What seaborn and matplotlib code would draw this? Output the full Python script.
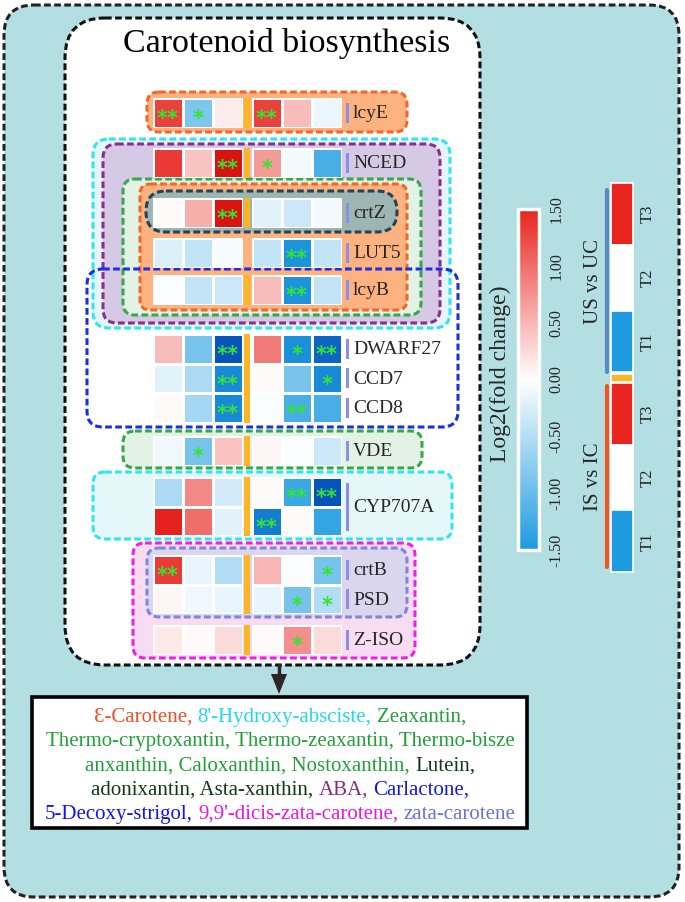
import numpy as np
import pandas as pd
import matplotlib
matplotlib.use('Agg')
import matplotlib.pyplot as plt
import seaborn as sns
from matplotlib.patches import FancyBboxPatch, Rectangle, Polygon
from matplotlib.colors import LinearSegmentedColormap, ListedColormap, Normalize
from matplotlib.cm import ScalarMappable

# -------------------------------
# data (log2 fold change)
# -------------------------------
genes = ['lcyE', 'NCED', 'crtZ', 'LUT5', 'lcyB', 'DWARF27', 'CCD7', 'CCD8',
         'VDE', 'CYP707A', 'CYP707A', 'crtB', 'PSD', 'Z-ISO']
treat = ['T1', 'T2', 'T3']

is_vs_ic = [[1.30, -0.85, 0.12], [1.35, 0.40, 2.20], [0.03, 0.55, 2.20],
            [-0.25, -0.40, -0.05], [-0.04, -0.40, -0.35], [0.45, -0.90, -2.70],
            [-0.20, -0.55, -1.80], [0.03, -0.60, -1.80], [-0.10, -0.90, 0.40],
            [-0.55, 0.80, -0.30], [1.60, 1.00, -0.20], [1.35, -0.15, -0.50],
            [0.06, -0.10, -0.15], [0.15, 0.04, 0.25]]
us_vs_uc = [[1.30, 0.45, -0.12], [0.70, -0.08, -1.20], [-0.20, -0.35, -0.08],
            [-0.40, -1.60, -0.40], [0.45, -1.60, -0.40], [0.90, -1.70, -2.40],
            [0.03, -0.90, -1.80], [-0.03, -1.20, -1.20], [0.05, -0.03, -0.35],
            [0.04, -1.30, -2.70], [-2.00, 0.03, -1.35], [0.50, -0.03, -0.90],
            [-0.15, -0.90, -0.50], [0.03, 0.75, 0.25]]
sig_is = [['**', '*', ''], ['', '', '**'], ['', '', '**'], ['', '', ''],
          ['', '', ''], ['', '', '**'], ['', '', '**'], ['', '', '**'],
          ['', '*', ''], ['', '', ''], ['', '', ''], ['**', '', ''],
          ['', '', ''], ['', '', '']]
sig_us = [['**', '', ''], ['*', '', ''], ['', '', ''], ['', '**', ''],
          ['', '**', ''], ['', '*', '**'], ['', '', '*'], ['', '**', ''],
          ['', '', ''], ['', '**', '**'], ['**', '', ''], ['', '', '*'],
          ['', '*', '*'], ['', '*', '']]

cbar_ticks = [-1.5, -1.0, -0.5, 0.0, 0.5, 1.0, 1.5]

products = [
    [("Ɛ-Carotene,", '#F04E24'), ("8'-Hydroxy-absciste,", '#22D8EE'), ("Zeaxantin,", '#22A03A')],
    [("Thermo-cryptoxantin, Thermo-zeaxantin, Thermo-bisze", '#22A03A')],
    [("anxanthin, Caloxanthin, Nostoxanthin,", '#22A03A'), ("Lutein,", '#123A12')],
    [("adonixantin, Asta-xanthin,", '#123A12'), ("ABA,", '#8A2A86'), ("Carlactone,", '#1414F0')],
    [("5-Decoxy-strigol,", '#1414F0'), ("9,9'-dicis-zata-carotene,", '#F014E6'), ("zata-carotene", '#6A72DC')],
]

# -------------------------------
# layout (pixels)
# -------------------------------
W, H = 685, 902
ROW_H = 29.5
# (first row, last row + 1, top pixel)
groups = [(0, 1, 98), (1, 2, 148), (2, 3, 198), (3, 4, 238), (4, 5, 275),
          (5, 8, 334), (8, 9, 436), (9, 11, 477), (11, 13, 555), (13, 14, 625)]
X_LEFT, X_RIGHT, CELL_W = 153, 252, 30

cmap = LinearSegmentedColormap.from_list(
    'lfc', [(0, '#0042B2'), (0.25, '#1E9BE0'), (0.5, '#FFFFFF'),
            (0.75, '#E8251F'), (1.0, '#C40000')])
cmap_mid = ListedColormap(cmap(np.linspace(0.25, 0.75, 256)))

sns.set_style('white')
plt.rcParams['font.family'] = ['Liberation Serif', 'DejaVu Serif']

fig = plt.figure(figsize=(W / 100, H / 100), dpi=100, facecolor='white')
bg = fig.add_axes([0, 0, 1, 1])
bg.set_xlim(0, W)
bg.set_ylim(H, 0)
bg.set_axis_off()


def px_axes(x0, y0, w, h):
    return fig.add_axes([x0 / W, 1 - (y0 + h) / H, w / W, h / H])


def box(x0, y0, x1, y1, r, fc, ec, lw=2.2, z=1, dash=(2.2, 1.1)):
    p = FancyBboxPatch((x0, y0), x1 - x0, y1 - y0,
                       boxstyle=f'round,pad=0,rounding_size={r}',
                       fc=fc, ec=ec, lw=lw, ls=(0, dash), zorder=z)
    bg.add_patch(p)


# -------------------------------
# frames
# -------------------------------
box(4, 5, 679, 897, 30, '#B3DFE3', '#222222', lw=2.2, z=0.5)
box(65, 18, 480, 665, 40, 'white', '#111111', lw=2.2, z=0.6)
box(147, 92, 407, 132, 12, '#FDB27F', '#F2672A', z=1)
box(93, 139, 450, 328, 16, '#E4F6F9', '#2EE6F2', z=1)
box(103, 144, 440, 323, 14, '#D6C9E6', '#8E2B8E', z=1.1)
box(123, 179, 421, 315, 12, '#E2F2E5', '#35A848', z=1.2)
box(140, 184, 407, 310, 10, '#FDB27F', '#F2672A', z=1.3)
box(146, 191, 397, 232, 20, '#9EB6B1', '#22445A', z=1.4)
box(123, 431, 422, 468, 12, '#E2F2E5', '#35A848', z=1)
box(93, 472, 452, 539, 12, '#E6F7FA', '#2EE6F2', z=1)
box(133, 543, 415, 658, 12, '#F8DDF2', '#F01EE8', z=1)
box(147, 548, 407, 617, 12, '#D9D6EE', '#7F87DA', z=1.1)
box(87, 269, 458, 427, 16, 'none', '#1B2FE0', z=2)

bg.text(287, 52, 'Carotenoid biosynthesis', fontsize=24.5, ha='center',
        va='baseline', color='black', zorder=3)

# -------------------------------
# heatmap rows
# -------------------------------
for a, b, top in groups:
    n = b - a
    for vals, sig, x0 in [(is_vs_ic, sig_is, X_LEFT), (us_vs_uc, sig_us, X_RIGHT)]:
        ax = px_axes(x0, top, 3 * CELL_W, n * ROW_H)
        df = pd.DataFrame(vals[a:b], index=genes[a:b], columns=treat)
        sns.heatmap(df, ax=ax, cmap=cmap, vmin=-3, vmax=3, cbar=False,
                    annot=np.array(sig[a:b]), fmt='', linewidths=1, linecolor='white',
                    annot_kws=dict(color='#30E630', fontsize=15, family='DejaVu Sans',
                                   fontweight='bold'))
        ax.set_axis_off()
        for t in ax.texts:
            tx, ty = t.get_position()
            t.set_position((tx, ty + 0.22))
    if genes[a] != 'LUT5':
        bg.add_patch(Rectangle((X_LEFT + 3 * CELL_W + 1.5, top), 6, n * ROW_H,
                               fc='#FBB526', ec='none', zorder=3))
    # gene labels
    names = genes[a:b]
    for name in dict.fromkeys(names):
        idx = [i for i, g in enumerate(names) if g == name]
        yc = top + (np.mean(idx) + 0.5) * ROW_H
        hb = 20 + (len(idx) - 1) * 28
        bg.add_patch(Rectangle((346, yc - hb / 2), 3, hb, fc='#8C8FE6', ec='none', zorder=3))
        bg.text(353, yc + 1, name, fontsize=14, va='center', ha='left', zorder=3)

# -------------------------------
# colorbar
# -------------------------------
cax = px_axes(518, 209, 21, 341)
cb = fig.colorbar(ScalarMappable(norm=Normalize(-1.5, 1.5), cmap=cmap_mid), cax=cax)
cax.set_yticks(cbar_ticks)
cax.set_yticklabels(['%.2f' % v for v in cbar_ticks], rotation=90, va='center',
                    fontsize=11.5)
cax.tick_params(length=0, pad=7)
cb.outline.set_edgecolor('white')
cb.outline.set_linewidth(2.5)
bg.text(500, 374, 'Log2(fold change)', fontsize=17, rotation=90, ha='center',
        va='center', zorder=3)

# -------------------------------
# comparison legend
# -------------------------------
leg_blocks = [(183, 245, '#E8251F'), (245, 311, 'white'), (311, 372, '#1E9BE0'),
              (374, 382, '#FBB526'),
              (383, 445, '#E8251F'), (445, 510, 'white'), (510, 572, '#1E9BE0')]
for y0, y1, c in leg_blocks:
    bg.add_patch(Rectangle((611, y0), 22, y1 - y0, fc=c, ec='white', lw=1.2, zorder=3))
for k, y0 in enumerate([183, 383]):
    for j, t in enumerate(treat[::-1]):
        bg.text(648, y0 + 31 + j * 64, t, fontsize=12, rotation=90, ha='center',
                va='center', zorder=3)
bg.plot([607, 607], [190, 372], color='#5A8AC0', lw=3, solid_capstyle='round', zorder=3)
bg.plot([607, 607], [386, 567], color='#F0561E', lw=3, solid_capstyle='round', zorder=3)
bg.text(594, 281, 'US vs UC', fontsize=15, rotation=90, ha='center', va='center', zorder=3)
bg.text(594, 477, 'IS vs IC', fontsize=15, rotation=90, ha='center', va='center', zorder=3)

# -------------------------------
# arrow + product box
# -------------------------------
bg.plot([279, 279], [665, 676], color='#2B2523', lw=2.5, zorder=3)
bg.add_patch(Polygon([(271, 674), (287, 674), (279, 694)], closed=True,
                     fc='#2B2523', ec='none', zorder=3))
bg.add_patch(Rectangle((32, 697), 495, 131, fc='white', ec='black', lw=2.6, zorder=2))

r = fig.canvas.get_renderer()
probe1 = bg.text(0, 0, 'x x', fontsize=15)
probe2 = bg.text(0, 0, 'xx', fontsize=15)
sp = probe1.get_window_extent(r).width - probe2.get_window_extent(r).width
probe1.remove()
probe2.remove()
for i, segs in enumerate(products):
    y = 722 + i * 24.2
    arts = [bg.text(0, y, s, color=c, fontsize=15, va='baseline', ha='left', zorder=3)
            for s, c in segs]
    widths = [t.get_window_extent(r).width for t in arts]
    total = sum(widths) + sp * (len(arts) - 1)
    x = 280 - total / 2
    for t, w in zip(arts, widths):
        t.set_x(x)
        x += w + sp

fig.savefig('out.png', dpi=100)
plt.close()
